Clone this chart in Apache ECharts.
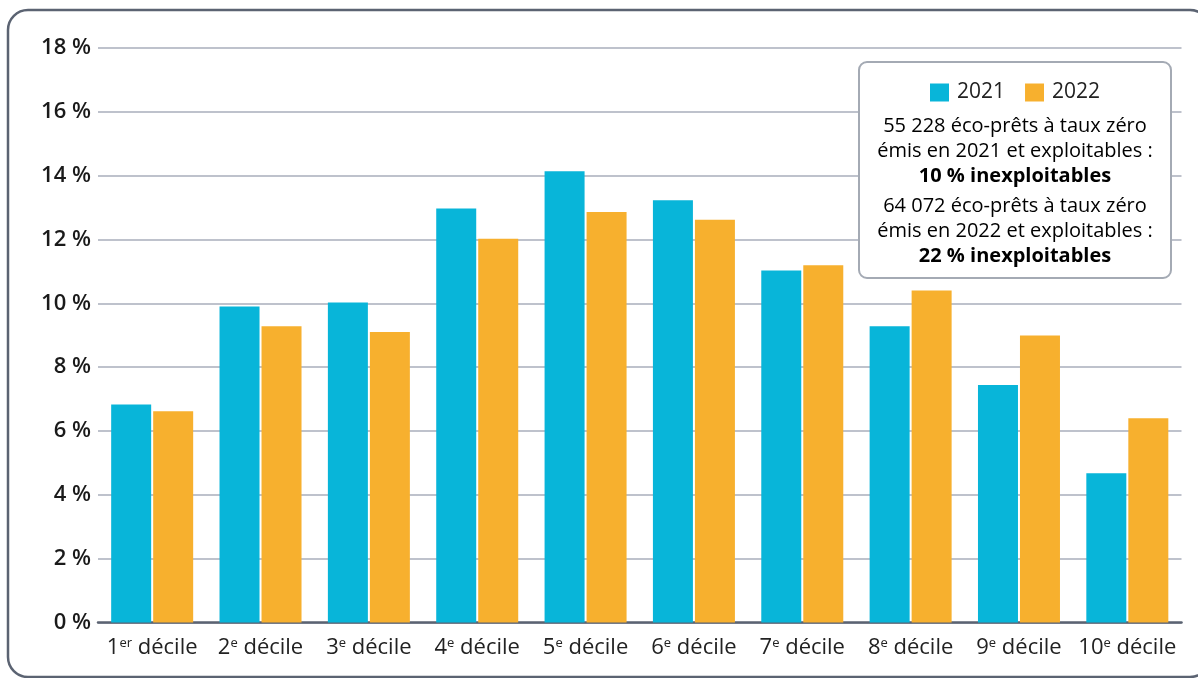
<!DOCTYPE html>
<html lang="fr">
<head>
<meta charset="utf-8">
<title>Éco-prêts à taux zéro par décile</title>
<script src="https://cdn.jsdelivr.net/npm/echarts@6/dist/echarts.min.js"></script>
<style>
  html, body { margin: 0; padding: 0; background: #ffffff; }
  #chart { width: 1198px; height: 678px; }
</style>
</head>
<body>
<div id="chart"></div>
<script>
// Deciles (number + ordinal suffix) shown on the category axis
const decileNumbers = ['1', '2', '3', '4', '5', '6', '7', '8', '9', '10'];
const decileSuffixes = ['er', 'e', 'e', 'e', 'e', 'e', 'e', 'e', 'e', 'e'];

// Share of loans per decile, in %
const values2021 = [6.83, 9.90, 10.03, 12.97, 14.14, 13.23, 11.03, 9.28, 7.44, 4.68];
const values2022 = [6.62, 9.28, 9.10, 12.02, 12.86, 12.62, 11.19, 10.40, 8.99, 6.40];

// Y axis ticks
const yTicks = [0, 2, 4, 6, 8, 10, 12, 14, 16, 18];

// Note text in the legend box
const note2021 = ['55 228 éco-prêts à taux zéro', 'émis en 2021 et exploitables :', '10 % inexploitables'];
const note2022 = ['64 072 éco-prêts à taux zéro', 'émis en 2022 et exploitables :', '22 % inexploitables'];

const FONT = '"Open Sans", "Noto Sans", sans-serif';
const categories = decileNumbers.map((n, i) => n + '|' + decileSuffixes[i]);

const chart = echarts.init(document.getElementById('chart'), null, { renderer: 'canvas' });

function noteText(lines) {
  return '{n|' + lines[0] + '}\n{n|' + lines[1] + '}\n{b|' + lines[2] + '}';
}

const noteRich = {
  n: { fontFamily: FONT, fontSize: 20, color: '#222222', lineHeight: 25, align: 'center' },
  b: { fontFamily: FONT, fontSize: 20, fontWeight: 700, color: '#111111', lineHeight: 25, align: 'center' }
};

chart.setOption({
  backgroundColor: '#ffffff',
  animation: false,
  textStyle: { fontFamily: FONT },
  grid: { left: 98, right: 16.5, top: 48, bottom: 55.5, containLabel: false },
  legend: {
    data: ['2021', '2022'],
    left: 925,
    top: 77,
    icon: 'rect',
    itemWidth: 19,
    itemHeight: 18,
    itemGap: 20,
    textStyle: { fontFamily: FONT, fontSize: 21, color: '#222222', padding: [0, 0, 0, 3] },
    z: 20
  },
  xAxis: {
    type: 'category',
    data: categories,
    axisLine: { show: true, lineStyle: { color: '#5b6372', width: 2.5 } },
    axisTick: { show: false },
    axisLabel: {
      interval: 0,
      margin: 14,
      formatter: function (v) {
        const parts = v.split('|');
        return '{n|' + parts[0] + '}{s|' + parts[1] + '}{t| décile}';
      },
      rich: {
        n: { fontFamily: FONT, fontSize: 22, color: '#222222' },
        s: { fontFamily: FONT, fontSize: 13, color: '#222222', verticalAlign: 'top', padding: [0, 0, 9, 0] },
        t: { fontFamily: FONT, fontSize: 22, color: '#222222' }
      }
    }
  },
  yAxis: {
    type: 'value',
    min: yTicks[0],
    max: yTicks[yTicks.length - 1],
    interval: yTicks[1] - yTicks[0],
    axisLine: { show: false },
    axisTick: { show: false },
    splitLine: { show: true, lineStyle: { color: '#a9aebb', width: 1.5 } },
    axisLabel: {
      margin: 7,
      fontFamily: FONT,
      fontSize: 22,
      fontWeight: 600,
      color: '#1a1a1a',
      formatter: function (v) { return v + ' %'; }
    }
  },
  series: [
    {
      name: '2021',
      type: 'bar',
      data: values2021,
      barWidth: 40,
      barGap: '5%',
      itemStyle: { color: '#08b5d9' }
    },
    {
      name: '2022',
      type: 'bar',
      data: values2022,
      barWidth: 40,
      itemStyle: { color: '#f7b02e' }
    }
  ],
  graphic: [
    {
      // outer frame around the whole figure
      type: 'rect',
      z: 0,
      silent: true,
      shape: { x: 8, y: 10, width: 1202, height: 667, r: 20 },
      style: { fill: 'none', stroke: '#5b6372', lineWidth: 2.5 }
    },
    {
      // legend box background
      type: 'rect',
      z: 10,
      silent: true,
      shape: { x: 859, y: 62, width: 312, height: 216, r: 8 },
      style: { fill: '#ffffff', stroke: '#a4aab4', lineWidth: 2 }
    },
    {
      type: 'text',
      z: 11,
      silent: true,
      x: 1015,
      y: 113.5,
      style: { text: noteText(note2021), align: 'center', verticalAlign: 'top', fontFamily: FONT, rich: noteRich }
    },
    {
      type: 'text',
      z: 11,
      silent: true,
      x: 1015,
      y: 194,
      style: { text: noteText(note2022), align: 'center', verticalAlign: 'top', fontFamily: FONT, rich: noteRich }
    }
  ]
});
</script>
</body>
</html>
